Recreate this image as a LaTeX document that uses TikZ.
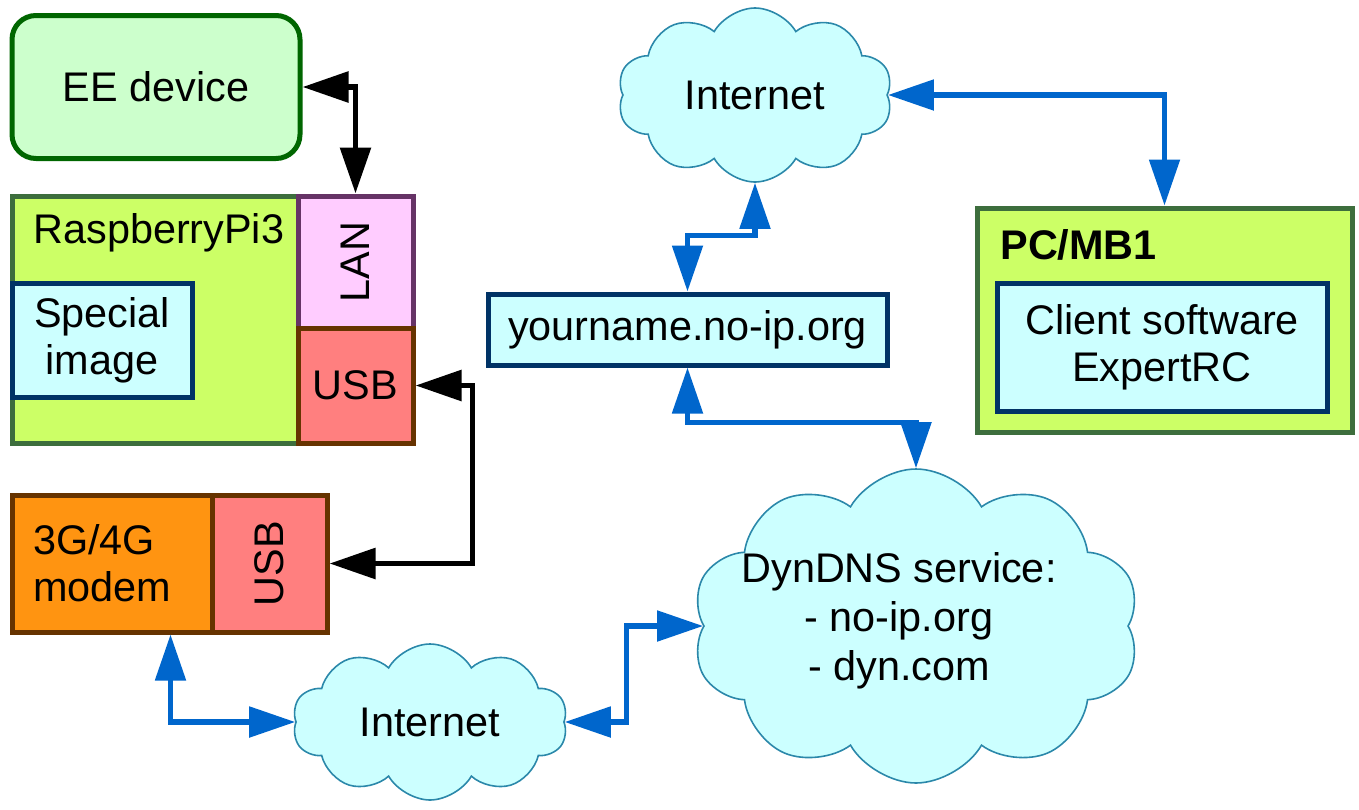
\documentclass[tikz,border=0pt]{standalone}
\usepackage{fontspec}
\setmainfont{Liberation Sans}
\usepackage{graphicx}
\usetikzlibrary{shapes, arrows.meta, positioning}
\definecolor{DevFill}{HTML}{CCFFCC}
\definecolor{DevEdge}{HTML}{006600}
\definecolor{BoardFill}{HTML}{CCFF66}
\definecolor{BoardEdge}{HTML}{3D6E3D}
\definecolor{LanFill}{HTML}{FFCCFF}
\definecolor{LanEdge}{HTML}{663366}
\definecolor{UsbFill}{HTML}{FF7F7F}
\definecolor{UsbEdge}{HTML}{663300}
\definecolor{ModemFill}{HTML}{FF9411}
\definecolor{SoftFill}{HTML}{CCFFFF}
\definecolor{SoftEdge}{HTML}{003366}
\definecolor{CloudEdge}{HTML}{2B88AA}
\definecolor{LinkBlue}{HTML}{0066CC}

\tikzset{
  box/.style={draw, line width=2.5pt, inner sep=0pt, align=center},
  netcloud/.style={cloud, cloud puffs=10, cloud puff arc=120, cloud ignores aspect,
    draw=CloudEdge, fill=SoftFill, line width=0.8pt, inner sep=0pt, align=center},
  wire/.style={line width=2.9pt, {Triangle[length=23pt,width=15pt]}-{Triangle[length=23pt,width=15pt]}},
  link/.style={wire, LinkBlue, line width=2.6pt}
}

\begin{document}
\begin{tikzpicture}[x=0.5pt, y=-0.5pt, font=\fontsize{20.7pt}{23.5pt}\selectfont]
  \useasboundingbox (0,0) rectangle (1359,809);
  \node[box, rounded corners=12pt, draw=DevEdge, fill=DevFill, minimum width=144pt, minimum height=71.5pt] (ee) at (156,87) {EE device};
  \node[box, draw=BoardEdge, fill=BoardFill, minimum width=200.5pt, minimum height=123.5pt] (rpi) at (212.5,319.5) {};
  \node[anchor=west, inner sep=0pt] (rpilabel) at (33,233) {RaspberryPi3};
  \node[box, draw=SoftEdge, fill=SoftFill, minimum width=90pt, minimum height=57pt] (img) at (102,340) {Special\\image};
  \node[box, draw=LanEdge, fill=LanFill, minimum width=57.5pt, minimum height=66pt] (lan) at (355.5,262) {\rotatebox{90}{LAN}};
  \node[box, draw=UsbEdge, fill=UsbFill, minimum width=57.5pt, minimum height=57.5pt] (usba) at (355.5,385.5) {USB};
  \node[box, draw=UsbEdge, fill=ModemFill, minimum width=100pt, minimum height=68.5pt, text width=79pt, align=left] (modem) at (112,563.5) {3G/4G\\modem};
  \node[box, draw=UsbEdge, fill=UsbFill, minimum width=57.5pt, minimum height=68.5pt] (usbb) at (269.5,563.5) {\rotatebox{90}{USB}};

  \node[netcloud, minimum width=137.5pt, minimum height=87pt] (neta) at (755,95) {Internet};
  \node[netcloud, minimum width=137.5pt, minimum height=78pt] (netb) at (430,722) {Internet};
  \node[netcloud, minimum width=224pt, minimum height=157pt] (dyn) at (916,626) {};
  \node[align=center, inner sep=0pt, font=\fontsize{20.7pt}{24.5pt}\selectfont] (dyntext) at (899,621) {DynDNS service:\\- no-ip.org\\- dyn.com};
  \node[box, draw=SoftEdge, fill=SoftFill, minimum width=199.5pt, minimum height=35.5pt] (host) at (687.5,329.5) {yourname.no-ip.org};

  \node[box, draw=BoardEdge, fill=BoardFill, minimum width=187.5pt, minimum height=112pt] (pc) at (1164.5,320) {};
  \node[anchor=west, inner sep=0pt, font=\fontsize{20.7pt}{23.5pt}\selectfont\bfseries] (pclabel) at (1000,245) {PC/MB1};
  \node[box, draw=SoftEdge, fill=SoftFill, minimum width=165pt, minimum height=64pt] (client) at (1162,347) {Client software\\ExpertRC};

  \draw[wire] (ee.east) -| (lan.north);
  \draw[wire] (usba.east) -- ++(57,0) |- (usbb.east);
  \draw[link] ([xshift=-22pt]modem.south east) |- (netb.west);
  \draw[link] (netb.east) -- ++(62,0) |- (dyn.west);
  \draw[link] (host.south) -- ++(0,55) -| (dyn.north);
  \draw[link] (host.north) -- ++(0,-56) -| (neta.south);
  \draw[link] (neta.east) -| (pc.north);
\end{tikzpicture}
\end{document}
